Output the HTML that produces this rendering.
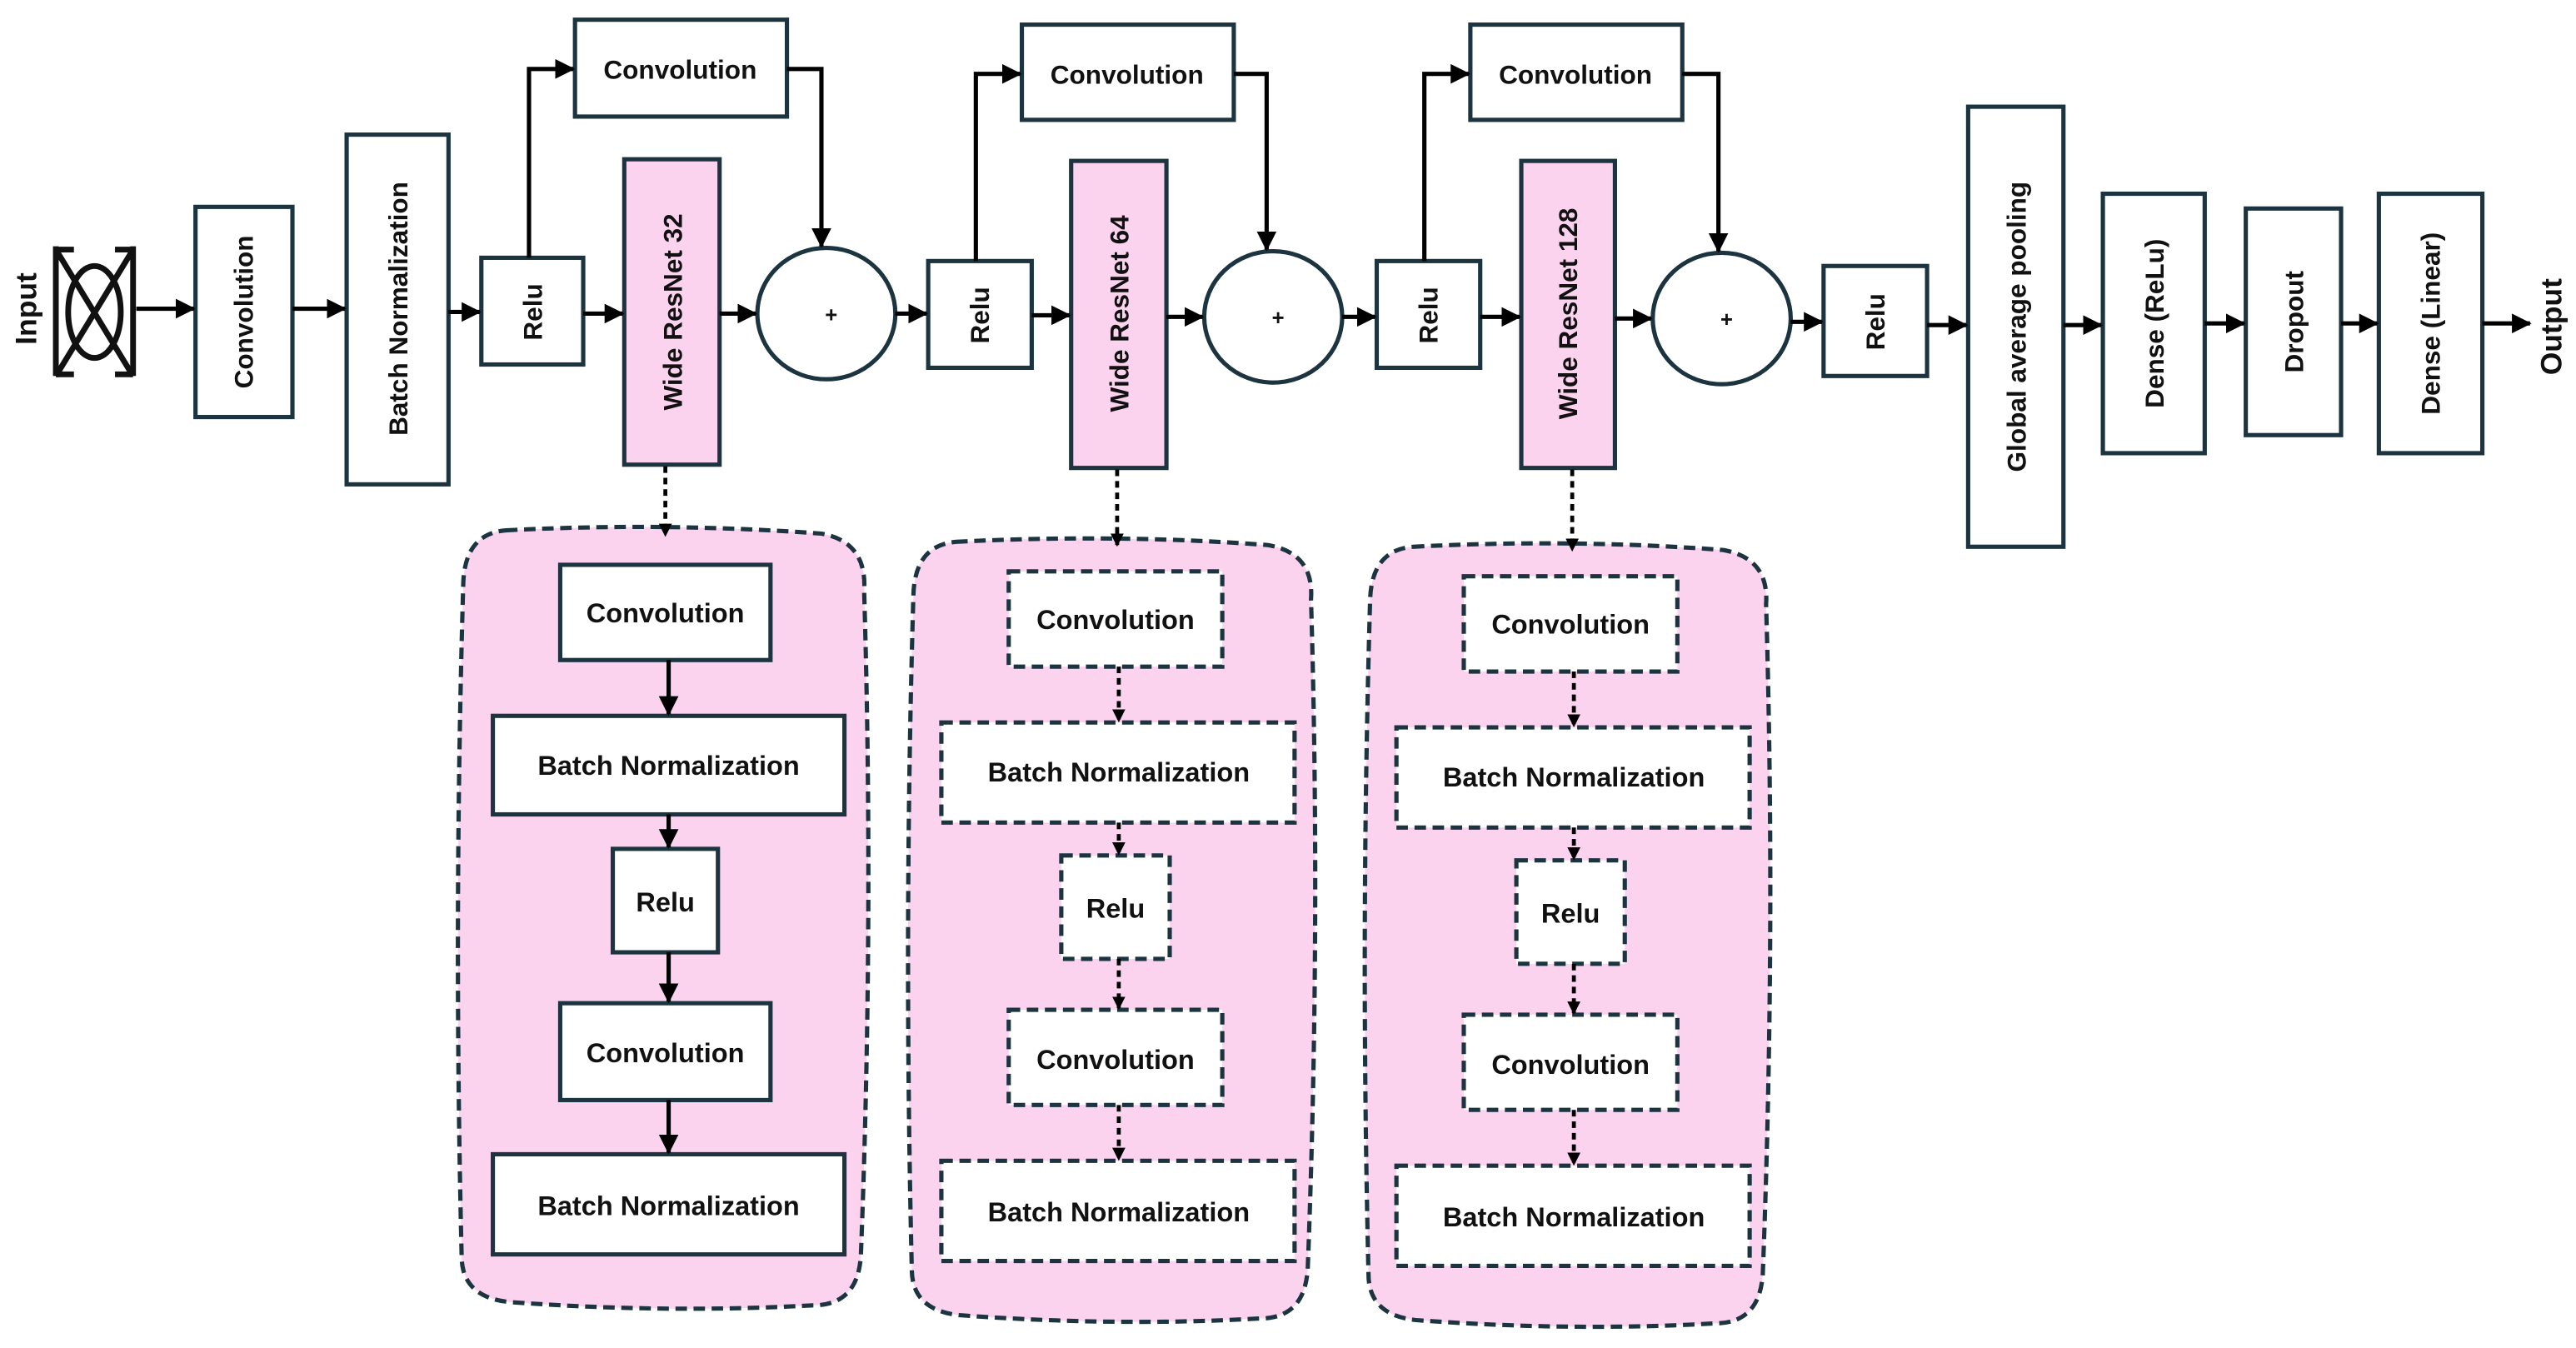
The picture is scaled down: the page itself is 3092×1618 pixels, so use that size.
<!DOCTYPE html>
<html><head><meta charset="utf-8"><style>
html,body{margin:0;padding:0;background:#fff;width:3092px;height:1618px;overflow:hidden}
svg{display:block}
text{font-family:"Liberation Sans",sans-serif;font-weight:bold;fill:#111}
</style></head><body>
<svg width="3092" height="1618" viewBox="0 0 1568 821" preserveAspectRatio="none" xmlns="http://www.w3.org/2000/svg">
<defs>
<marker id="a" markerWidth="8" markerHeight="8" refX="7" refY="4" orient="auto" markerUnits="userSpaceOnUse" viewBox="0 0 8 8"><path d="M0,0 L8,4 L0,8 z" fill="#000"/></marker>
<marker id="b" markerWidth="12" markerHeight="12" refX="11" refY="6" orient="auto" markerUnits="userSpaceOnUse" viewBox="0 0 12 12"><path d="M0,0 L12,6 L0,12 z" fill="#000"/></marker>
</defs>
<g stroke="#1b3440" stroke-width="2.6" fill="#fff">
<rect x="119" y="126" width="59" height="128"/>
<rect x="211" y="82" width="62" height="213"/>
<rect x="293" y="157" width="62" height="65"/>
<rect x="350" y="12" width="129" height="59"/>
<rect x="380" y="97" width="58" height="186" fill="#fbd3ef"/>
<ellipse cx="503" cy="191" rx="42" ry="40"/>
<rect x="565" y="159" width="63" height="65"/>
<rect x="622" y="15" width="129" height="58"/>
<rect x="652" y="98" width="58" height="187" fill="#fbd3ef"/>
<ellipse cx="775" cy="193" rx="42" ry="40"/>
<rect x="838" y="159" width="63" height="65"/>
<rect x="895" y="15" width="129" height="58"/>
<rect x="926" y="98" width="57" height="187" fill="#fbd3ef"/>
<ellipse cx="1048" cy="194" rx="42" ry="40"/>
<rect x="1110" y="162" width="63" height="67"/>
<rect x="1198" y="65" width="58" height="268"/>
<rect x="1280" y="118" width="62" height="158"/>
<rect x="1367" y="127" width="58" height="138"/>
<rect x="1448" y="118" width="63" height="158"/>
<g fill="#fbd3ef" stroke-dasharray="7,4">
<path d="M308,323 Q405,318 500,325 Q528,330 526,360 Q532,560 524,765 Q522,795 495,795 Q405,800 310,793 Q281,790 281,765 Q276,560 282,355 Q283,325 308,323 Z"/>
<path d="M582,330 Q680,325 772,332 Q800,337 798,365 Q804,565 796,773 Q794,803 767,803 Q680,808 584,801 Q555,798 555,773 Q550,565 556,362 Q557,332 582,330 Z"/>
<path d="M860,333 Q957,328 1049,335 Q1077,340 1075,368 Q1081,568 1073,776 Q1071,806 1044,806 Q957,811 862,804 Q833,801 833,776 Q828,568 834,365 Q835,335 860,333 Z"/>
</g>
<rect x="341" y="344" width="128" height="58"/>
<rect x="300" y="436" width="214" height="60"/>
<rect x="373" y="517" width="64" height="63"/>
<rect x="341" y="611" width="128" height="59"/>
<rect x="300" y="703" width="214" height="61"/>
<g stroke-dasharray="7,4">
<rect x="614" y="348" width="130" height="58"/>
<rect x="573" y="440" width="215" height="61"/>
<rect x="646" y="521" width="66" height="63"/>
<rect x="614" y="615" width="130" height="58"/>
<rect x="573" y="707" width="215" height="61"/>
<rect x="891" y="351" width="130" height="58"/>
<rect x="850" y="443" width="215" height="61"/>
<rect x="923" y="524" width="66" height="63"/>
<rect x="891" y="618" width="130" height="58"/>
<rect x="850" y="710" width="215" height="61"/>
</g>
</g>
<g stroke="#111" stroke-width="3.5" fill="none">
<line x1="34" y1="150" x2="34" y2="229"/><line x1="81" y1="150" x2="81" y2="229"/>
<line x1="34" y1="152" x2="81" y2="229"/><line x1="81" y1="152" x2="34" y2="229"/>
<line x1="34" y1="152" x2="45" y2="152"/><line x1="70" y1="152" x2="81" y2="152"/>
<line x1="34" y1="228" x2="45" y2="228"/><line x1="70" y1="228" x2="81" y2="228"/>
<ellipse cx="57.5" cy="190" rx="16" ry="28"/>
</g>
<g stroke="#000" stroke-width="2.6" fill="none" marker-end="url(#b)">
<line x1="83" y1="188" x2="118" y2="188"/>
<line x1="178" y1="188" x2="210" y2="188"/>
<line x1="273" y1="190" x2="292" y2="190"/>
<line x1="355" y1="191" x2="379" y2="191"/>
<line x1="438" y1="191" x2="460" y2="191"/>
<line x1="545" y1="191" x2="564" y2="191"/>
<line x1="628" y1="192" x2="651" y2="192"/>
<line x1="710" y1="193" x2="732" y2="193"/>
<line x1="817" y1="193" x2="837" y2="193"/>
<line x1="901" y1="193" x2="925" y2="193"/>
<line x1="983" y1="194" x2="1005" y2="194"/>
<line x1="1090" y1="196" x2="1109" y2="196"/>
<line x1="1173" y1="198" x2="1197" y2="198"/>
<line x1="1256" y1="198" x2="1279" y2="198"/>
<line x1="1342" y1="197" x2="1366" y2="197"/>
<line x1="1425" y1="197" x2="1447" y2="197"/>
<line x1="1511" y1="197" x2="1540" y2="197"/>
<polyline points="322,157 322,42 349,42"/>
<polyline points="479,42 500,42 500,150"/>
<polyline points="594,159 594,45 621,45"/>
<polyline points="751,45 771,45 771,152"/>
<polyline points="867,159 867,45 894,45"/>
<polyline points="1024,45 1046,45 1046,153"/>
<line x1="407" y1="402" x2="407" y2="435"/>
<line x1="407" y1="496" x2="407" y2="516"/>
<line x1="407" y1="580" x2="407" y2="610"/>
<line x1="407" y1="670" x2="407" y2="702"/>
</g>
<g stroke="#000" stroke-width="2.4" fill="none" marker-end="url(#a)" stroke-dasharray="4,3">
<line x1="405" y1="284" x2="405" y2="326"/>
<line x1="680" y1="286" x2="680" y2="332"/>
<line x1="957" y1="286" x2="957" y2="335"/>
<line x1="681" y1="406" x2="681" y2="439"/>
<line x1="681" y1="501" x2="681" y2="520"/>
<line x1="681" y1="584" x2="681" y2="614"/>
<line x1="681" y1="673" x2="681" y2="706"/>
<line x1="958" y1="409" x2="958" y2="442"/>
<line x1="958" y1="504" x2="958" y2="523"/>
<line x1="958" y1="587" x2="958" y2="617"/>
<line x1="958" y1="676" x2="958" y2="709"/>
</g>
<g font-size="16" text-anchor="middle">
<text transform="translate(22,188) rotate(-90)" font-size="18">Input</text>
<text transform="translate(154,190) rotate(-90)">Convolution</text>
<text transform="translate(248,188) rotate(-90)">Batch Normalization</text>
<text transform="translate(330,190) rotate(-90)">Relu</text>
<text x="414" y="48">Convolution</text>
<text transform="translate(415,190) rotate(-90)">Wide ResNet 32</text>
<text x="506" y="196" font-size="13">+</text>
<text transform="translate(602,192) rotate(-90)">Relu</text>
<text x="686" y="51">Convolution</text>
<text transform="translate(687,191) rotate(-90)">Wide ResNet 64</text>
<text x="778" y="198" font-size="13">+</text>
<text transform="translate(875,192) rotate(-90)">Relu</text>
<text x="959" y="51">Convolution</text>
<text transform="translate(960,191) rotate(-90)">Wide ResNet 128</text>
<text x="1051" y="199" font-size="13">+</text>
<text transform="translate(1147,196) rotate(-90)">Relu</text>
<text transform="translate(1233,199) rotate(-90)">Global average pooling</text>
<text transform="translate(1317,197) rotate(-90)">Dense (ReLu)</text>
<text transform="translate(1402,196) rotate(-90)">Dropout</text>
<text transform="translate(1485,197) rotate(-90)">Dense (Linear)</text>
<text transform="translate(1559,199) rotate(-90)" font-size="18">Output</text>
</g>
<g font-size="16.5" text-anchor="middle">
<text x="405" y="379">Convolution</text>
<text x="407" y="472">Batch Normalization</text>
<text x="405" y="555">Relu</text>
<text x="405" y="647">Convolution</text>
<text x="407" y="740">Batch Normalization</text>
<text x="679" y="383">Convolution</text>
<text x="681" y="476">Batch Normalization</text>
<text x="679" y="559">Relu</text>
<text x="679" y="651">Convolution</text>
<text x="681" y="744">Batch Normalization</text>
<text x="956" y="386">Convolution</text>
<text x="958" y="479">Batch Normalization</text>
<text x="956" y="562">Relu</text>
<text x="956" y="654">Convolution</text>
<text x="958" y="747">Batch Normalization</text>
</g>
</svg>
</body></html>
